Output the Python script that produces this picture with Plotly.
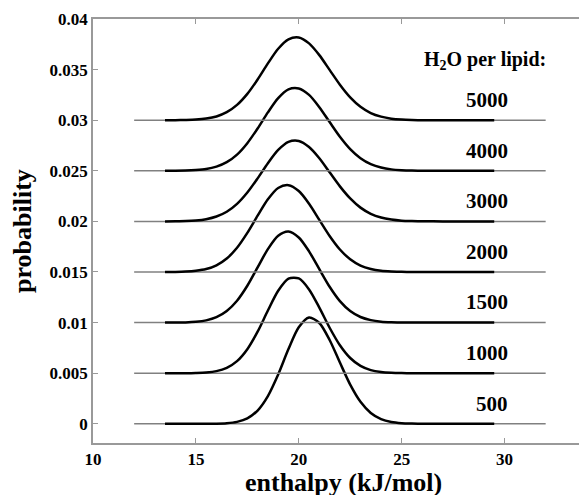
import plotly.graph_objects as go

# enthalpy grid (kJ/mol) at which the curves were read
enthalpy = [13.5, 14.0, 14.5, 15.0, 15.5, 16.0, 16.5, 17.0, 17.5, 18.0, 18.5, 19.0,
            19.5, 20.0, 20.5, 21.0, 21.5, 22.0, 22.5, 23.0, 23.5, 24.0, 24.5, 25.0,
            25.5, 26.0, 27.0, 28.0, 29.0, 29.5]

# probabilities (without vertical offset)
p500 = [0, 0, 0, 0, 0, 0.00001, 0.000055, 0.00019, 0.00053, 0.00131, 0.00274, 0.00487,
        0.00738, 0.00953, 0.0105, 0.00996, 0.00828, 0.00605, 0.00387, 0.00217, 0.00107,
        0.00046, 0.000175, 0.00006, 0.00002, 0, 0, 0, 0, 0]
p1000 = [0, 0, 0, 0.00002, 0.000067, 0.0002, 0.000525, 0.00119, 0.00237, 0.0041, 0.00619,
         0.00814, 0.00934, 0.00936, 0.00828, 0.00648, 0.00449, 0.00276, 0.0015, 0.00072,
         0.000305, 0.000115, 0.000038, 0.00001, 0, 0, 0, 0, 0, 0]
p1500 = [0, 0, 0.00002, 0.00008, 0.00022, 0.00053, 0.00114, 0.00216, 0.00364, 0.00546,
         0.00726, 0.00858, 0.0090, 0.00841, 0.00704, 0.00528, 0.00354, 0.00212, 0.00114,
         0.00055, 0.00024, 0.00009, 0.00003, 0.00001, 0, 0, 0, 0, 0, 0]
p2000 = [0, 0.00001, 0.00004, 0.00012, 0.00029, 0.00066, 0.00133, 0.00239, 0.00386, 0.00556,
         0.00718, 0.0083, 0.00858, 0.0080, 0.00675, 0.00515, 0.00356, 0.00222, 0.00126,
         0.00064, 0.0003, 0.00012, 0.00005, 0.00002, 0, 0, 0, 0, 0, 0]
p3000 = [0, 0.00001, 0.00003, 0.00009, 0.00022, 0.00048, 0.00095, 0.00173, 0.00285, 0.00425,
         0.00575, 0.00706, 0.00786, 0.00795, 0.00735, 0.00624, 0.00485, 0.00346, 0.00227,
         0.00136, 0.00075, 0.00038, 0.00018, 0.00007, 0.00003, 0.00001, 0, 0, 0, 0]
p4000 = [0, 0, 0.00002, 0.00007, 0.00017, 0.00041, 0.00085, 0.0016, 0.00273, 0.00418,
         0.00577, 0.00718, 0.00805, 0.00814, 0.0075, 0.00629, 0.00482, 0.00337, 0.00215,
         0.00125, 0.00066, 0.00032, 0.00014, 0.00006, 0.00002, 0, 0, 0, 0, 0]
p5000 = [0, 0, 0.00002, 0.00006, 0.00016, 0.00037, 0.00079, 0.00151, 0.0026, 0.00402,
         0.00561, 0.00706, 0.00799, 0.00817, 0.00759, 0.00643, 0.00497, 0.00351, 0.00226,
         0.00133, 0.00071, 0.00035, 0.00015, 0.00006, 0.00002, 0, 0, 0, 0, 0]

water_labels = ["500", "1000", "1500", "2000", "3000", "4000", "5000"]
series = [p500, p1000, p1500, p2000, p3000, p4000, p5000]
offsets = [0.0, 0.005, 0.010, 0.015, 0.020, 0.025, 0.030]
baseline_x = [12, 32]

y_tickvals = [0, 0.005, 0.01, 0.015, 0.02, 0.025, 0.03, 0.035, 0.04]
y_ticktext = ["0", "0.005", "0.01", "0.015", "0.02", "0.025", "0.03", "0.035", "0.04"]
x_tickvals = [10, 15, 20, 25, 30]

FONT = "Liberation Serif"

fig = go.Figure()
for lab, vals, off in zip(water_labels, series, offsets):
    fig.add_trace(go.Scatter(x=baseline_x, y=[off, off], mode="lines",
                             line=dict(color="#808080", width=1.5),
                             showlegend=False, hoverinfo="skip"))
    fig.add_trace(go.Scatter(x=enthalpy, y=[v + off for v in vals], mode="lines",
                             line=dict(color="black", width=2.5, shape="spline", smoothing=0.8),
                             name=lab, showlegend=False))
    fig.add_annotation(x=30.27, y=off + 0.002, xref="x", yref="y", text=lab,
                       showarrow=False, xanchor="right", yanchor="middle",
                       font=dict(family=FONT, size=21, color="black", weight="bold"))

fig.add_annotation(x=32.1, y=0.0359, xref="x", yref="y", text="H<sub>2</sub>O per lipid:",
                   showarrow=False, xanchor="right", yanchor="middle",
                   font=dict(family=FONT, size=20, color="black", weight="bold"))

fig.add_annotation(x=22.15, y=-0.093, xref="x", yref="paper", text="enthalpy (kJ/mol)",
                   showarrow=False, xanchor="center", yanchor="middle",
                   font=dict(family=FONT, size=26, color="black", weight="bold"))
fig.add_annotation(x=-0.145, y=0.499, xref="paper", yref="paper", text="probability",
                   showarrow=False, xanchor="center", yanchor="middle", textangle=-90,
                   font=dict(family=FONT, size=26, color="black", weight="bold"))

fig.update_layout(
    width=579, height=495,
    margin=dict(l=93, r=0, t=19, b=52),
    paper_bgcolor="white", plot_bgcolor="white",
    xaxis=dict(range=[10, 33.62], tickvals=x_tickvals, ticks="inside", ticklen=5,
               tickcolor="#999999", showline=True, linecolor="#999999", linewidth=1.5,
               mirror="ticks", showgrid=False, zeroline=False,
               tickfont=dict(family=FONT, size=17, color="black", weight="bold")),
    yaxis=dict(range=[-0.0019, 0.04], tickvals=y_tickvals, ticktext=y_ticktext,
               ticks="inside", ticklen=5, tickcolor="#999999", showline=True,
               linecolor="#999999", linewidth=1.5, mirror=False, showgrid=False,
               zeroline=False,
               tickfont=dict(family=FONT, size=17, color="black", weight="bold")),
)

fig.write_html("out.html")
